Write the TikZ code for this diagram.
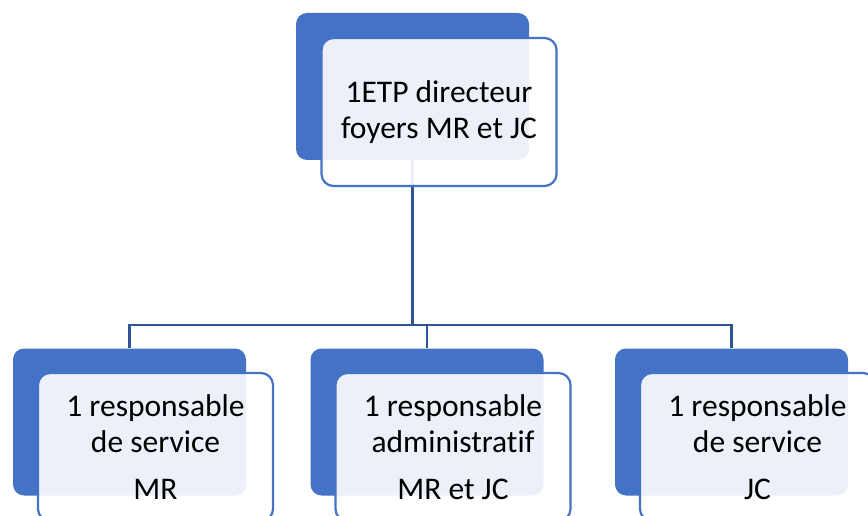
\documentclass[tikz,border=0pt]{standalone}
\usepackage{fontspec}
\setmainfont{Carlito}[Ligatures=NoCommon]
\definecolor{accent}{HTML}{4472C4}
\definecolor{linkc}{HTML}{2F5597}
\begin{document}
\begin{tikzpicture}[x=1pt,y=-1pt,
  backbox/.style={draw=none,fill=accent,rounded corners=11pt,minimum width=233pt,minimum height=147pt,inner sep=0pt},
  frontbox/.style={draw=accent,line width=2.2pt,fill=white,fill opacity=0.9,text opacity=1,rounded corners=12pt,minimum width=235pt,minimum height=148pt,inner sep=0pt,align=center,font=\fontsize{31.5}{36}\selectfont},
  link/.style={draw=linkc,line width=2.4pt}]
\useasboundingbox (0,0) rectangle (868,516);
\clip (0,0) rectangle (868,516);
\coordinate (bus) at (0,325);
% back boxes
\node[backbox] (tb) at (412.5,86.5) {};
\node[backbox] (b1) at (129.5,422) {};
\node[backbox] (b2) at (427,422) {};
\node[backbox] (b3) at (731.5,422) {};
% connectors
\draw[link] (tb.south) -- (tb.south |- bus);
\draw[link] (b1.north) -- (b1.north |- bus) -- (b3.north |- bus) -- (b3.north);
\draw[link] (b2.north) -- (b2.north |- bus);
% front boxes
\node[frontbox] (tf) at (439,112) {1ETP directeur\\foyers MR et JC};
\node[frontbox] (f1) at (155.5,447) {1 responsable\\de service\\[11pt]MR};
\node[frontbox] (f2) at (453,447) {1 responsable\\administratif\\[11pt]MR et JC};
\node[frontbox] (f3) at (757.5,447) {1 responsable\\de service\\[11pt]JC};
\end{tikzpicture}
\end{document}
